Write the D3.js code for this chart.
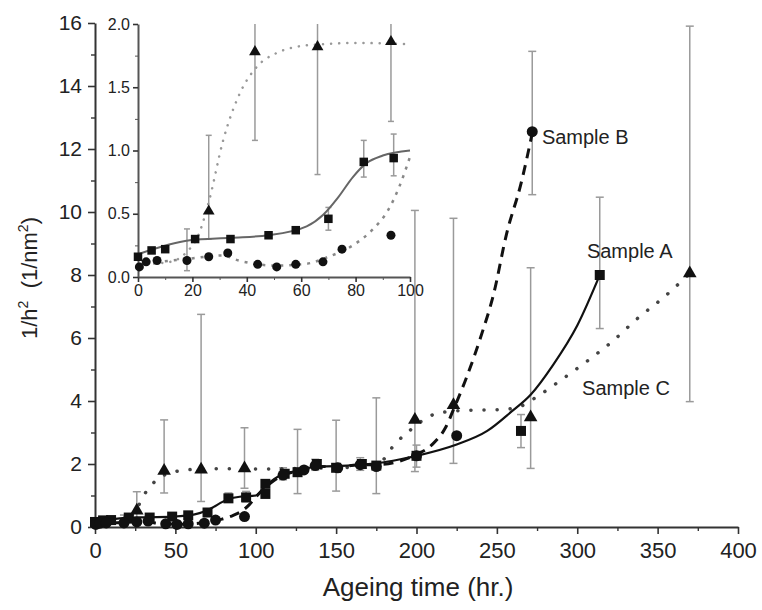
<!DOCTYPE html>
<html>
<head>
<meta charset="utf-8">
<script src="https://cdn.jsdelivr.net/npm/d3@7"></script>
<style>
  body { margin: 0; background: #fff; }
  text { font-family: "Liberation Sans", Arial, sans-serif; fill: #222; }
</style>
</head>
<body>
<svg id="chart" width="762" height="610"></svg>
<script>
// measured points (ageing time in hr, 1/h^2 in 1/nm^2)
const pointsA = [
  { t: 0, v: 0.16 }, { t: 5, v: 0.21 }, { t: 10, v: 0.22 }, { t: 21, v: 0.3 },
  { t: 34, v: 0.3 }, { t: 48, v: 0.33 }, { t: 58, v: 0.37 }, { t: 70, v: 0.46 },
  { t: 83, v: 0.91 }, { t: 94, v: 0.94 }, { t: 106, v: 1.05 }, { t: 106, v: 1.37 },
  { t: 118, v: 1.69 }, { t: 126, v: 1.74 }, { t: 138, v: 2.0 }, { t: 150, v: 1.88 },
  { t: 166, v: 2.0 }, { t: 175, v: 1.95 }, { t: 200, v: 2.26 }, { t: 265, v: 3.05 },
  { t: 314, v: 8.0 },
];
const pointsB = [
  { t: 0.5, v: 0.08 }, { t: 3, v: 0.12 }, { t: 7, v: 0.13 }, { t: 18, v: 0.13 },
  { t: 26, v: 0.16 }, { t: 33, v: 0.19 }, { t: 44, v: 0.1 }, { t: 51, v: 0.08 },
  { t: 58, v: 0.1 }, { t: 68, v: 0.12 }, { t: 75, v: 0.22 }, { t: 93, v: 0.33 },
  { t: 117, v: 1.65 }, { t: 130, v: 1.81 }, { t: 137, v: 1.95 }, { t: 151, v: 1.88 },
  { t: 165, v: 1.98 }, { t: 175, v: 1.92 }, { t: 200, v: 2.26 }, { t: 225, v: 2.9 },
  { t: 272, v: 12.55 },
];
const pointsC = [
  { t: 26, v: 0.52 }, { t: 43, v: 1.78 }, { t: 66, v: 1.82 }, { t: 93, v: 1.86 },
  { t: 199, v: 3.4 }, { t: 223, v: 3.87 }, { t: 271, v: 3.48 }, { t: 370, v: 8.05 },
];

// error bars (low, high)
const errorsA = [
  { t: 70, lo: 0.37, hi: 0.55 }, { t: 83, lo: 0.79, hi: 1.08 }, { t: 94, lo: 0.8, hi: 1.13 },
  { t: 126, lo: 1.06, hi: 3.1 }, { t: 150, lo: 1.14, hi: 3.39 }, { t: 175, lo: 1.06, hi: 4.1 },
  { t: 265, lo: 2.52, hi: 3.57 }, { t: 314, lo: 6.3, hi: 10.47 },
];
const errorsB = [
  { t: 18, lo: 0.05, hi: 0.38 }, { t: 117, lo: 1.5, hi: 1.88 }, { t: 137, lo: 1.8, hi: 2.15 },
  { t: 165, lo: 1.8, hi: 2.2 }, { t: 200, lo: 1.9, hi: 2.6 }, { t: 272, lo: 10.55, hi: 15.1 },
];
const errorsC = [
  { t: 26, lo: 0.3, hi: 1.12 }, { t: 43, lo: 1.08, hi: 3.4 }, { t: 66, lo: 0.81, hi: 6.75 },
  { t: 93, lo: 1.23, hi: 3.15 }, { t: 199, lo: 1.76, hi: 10.05 }, { t: 223, lo: 2.02, hi: 9.8 },
  { t: 271, lo: 1.86, hi: 8.23 }, { t: 370, lo: 3.98, hi: 15.9 },
];

// fitted curves
const fitA = [
  { t: 0, v: 0.18 }, { t: 19, v: 0.29 }, { t: 34, v: 0.31 }, { t: 48, v: 0.33 },
  { t: 62, v: 0.4 }, { t: 68, v: 0.49 }, { t: 73.6, v: 0.63 }, { t: 79, v: 0.79 },
  { t: 84, v: 0.9 }, { t: 90, v: 0.96 }, { t: 100, v: 1.0 }, { t: 106, v: 1.3 },
  { t: 117, v: 1.68 }, { t: 126, v: 1.78 }, { t: 138, v: 1.92 }, { t: 150, v: 1.93 },
  { t: 166, v: 1.98 }, { t: 175, v: 2.02 }, { t: 190, v: 2.15 }, { t: 200, v: 2.26 },
  { t: 225, v: 2.62 }, { t: 244, v: 3.05 }, { t: 259, v: 3.66 }, { t: 271, v: 4.2 },
  { t: 285, v: 5.15 }, { t: 300, v: 6.4 }, { t: 314, v: 8.0 },
];
const fitB = [
  { t: 0, v: 0.1 }, { t: 19, v: 0.145 }, { t: 31, v: 0.17 }, { t: 37, v: 0.13 },
  { t: 51, v: 0.09 }, { t: 62, v: 0.105 }, { t: 70, v: 0.16 }, { t: 79, v: 0.25 },
  { t: 86, v: 0.37 }, { t: 92, v: 0.53 }, { t: 96, v: 0.71 }, { t: 100, v: 0.95 },
  { t: 107, v: 1.3 }, { t: 117, v: 1.65 }, { t: 130, v: 1.81 }, { t: 137, v: 1.93 },
  { t: 151, v: 1.9 }, { t: 165, v: 1.98 }, { t: 175, v: 1.98 }, { t: 200, v: 2.3 },
  { t: 210, v: 2.63 }, { t: 218, v: 3.15 }, { t: 224, v: 3.85 }, { t: 231, v: 4.73 },
  { t: 240, v: 6.04 }, { t: 248, v: 7.4 }, { t: 256, v: 9.3 }, { t: 265, v: 10.9 },
  { t: 272, v: 12.5 },
];
const fitC = [
  { t: 0, v: 0.1 }, { t: 12, v: 0.12 }, { t: 18, v: 0.2 }, { t: 22, v: 0.32 },
  { t: 26.1, v: 0.6 }, { t: 31.3, v: 1.08 }, { t: 37.4, v: 1.45 }, { t: 43.6, v: 1.66 },
  { t: 50.9, v: 1.77 }, { t: 58.3, v: 1.82 }, { t: 68, v: 1.84 }, { t: 80, v: 1.85 },
  { t: 100, v: 1.84 }, { t: 130, v: 1.86 }, { t: 160, v: 1.9 }, { t: 176, v: 2.0 },
  { t: 187, v: 2.66 }, { t: 195, v: 3.03 }, { t: 210, v: 3.56 }, { t: 219, v: 3.66 },
  { t: 234, v: 3.71 }, { t: 250, v: 3.72 }, { t: 263, v: 3.8 }, { t: 275, v: 4.14 },
  { t: 290, v: 4.67 }, { t: 306, v: 5.26 }, { t: 322, v: 5.9 }, { t: 337, v: 6.6 },
  { t: 354, v: 7.3 }, { t: 370, v: 8.05 },
];

const xTicks = [0, 50, 100, 150, 200, 250, 300, 350, 400];
const yTicks = [0, 2, 4, 6, 8, 10, 12, 14, 16];
const insetXTicks = [0, 20, 40, 60, 80, 100];
const insetYTicks = [0, 0.5, 1.0, 1.5, 2.0];

const labels = [
  { name: "Sample B", t: 278, v: 12.15 },
  { name: "Sample A", t: 306, v: 8.55 },
  { name: "Sample C", t: 303, v: 4.2 },
];

const svg = d3.select("#chart");

// ---------- MAIN PLOT ----------
const x = d3.scaleLinear().domain([0, 400]).range([95, 738]);
const y = d3.scaleLinear().domain([0, 16]).range([527, 23]);

function styleAxis(g, fontSize) {
  g.select(".domain").attr("stroke", "#333").attr("stroke-width", 2);
  g.selectAll(".tick line").attr("stroke", "#333").attr("stroke-width", 1.6);
  g.selectAll(".tick text").style("font-size", fontSize + "px").attr("fill", "#222");
}

const gx = svg.append("g").attr("transform", `translate(0,${y(0)})`);
gx.call(d3.axisBottom(x).tickValues(xTicks).tickSize(7).tickSizeOuter(0).tickPadding(8));
styleAxis(gx, 22);
const gxm = svg.append("g").attr("transform", `translate(0,${y(0)})`);
gxm.call(d3.axisBottom(x).tickValues(d3.range(25, 400, 50)).tickSize(4).tickFormat(""));
gxm.select(".domain").remove();
gxm.selectAll(".tick line").attr("stroke", "#333").attr("stroke-width", 1.4);

const gy = svg.append("g").attr("transform", `translate(${x(0)},0)`);
gy.call(d3.axisLeft(y).tickValues(yTicks).tickSize(7).tickSizeOuter(0).tickPadding(6));
styleAxis(gy, 21);
const gym = svg.append("g").attr("transform", `translate(${x(0)},0)`);
gym.call(d3.axisLeft(y).tickValues(d3.range(1, 16, 2)).tickSize(4).tickFormat(""));
gym.select(".domain").remove();
gym.selectAll(".tick line").attr("stroke", "#333").attr("stroke-width", 1.4);

// axis titles
svg.append("text")
  .attr("x", 418).attr("y", 596)
  .attr("text-anchor", "middle")
  .style("font-size", "26px")
  .attr("fill", "#222")
  .text("Ageing time (hr.)");

const yTitle = svg.append("text")
  .attr("transform", "translate(37,278) rotate(-90)")
  .attr("text-anchor", "middle")
  .style("font-size", "22px")
  .attr("fill", "#222");
yTitle.append("tspan").text("1/h");
yTitle.append("tspan").attr("dy", -9).style("font-size", "14px").text("2");
yTitle.append("tspan").attr("dy", 9).text("\u00a0 (1/nm");
yTitle.append("tspan").attr("dy", -9).style("font-size", "14px").text("2");
yTitle.append("tspan").attr("dy", 9).text(")");

function drawPlot(g, xs, ys, opt) {
  const keep = (d) => d.t <= xs.domain()[1];

  // error bars
  const errs = [errorsA, errorsB, errorsC];
  errs.forEach((arr) => {
    const eg = g.append("g").attr("stroke", "#9a9a9a").attr("stroke-width", 1.5);
    arr.filter(keep).forEach((d) => {
      const top = Math.min(d.hi, ys.domain()[1]);
      eg.append("line")
        .attr("x1", xs(d.t)).attr("x2", xs(d.t))
        .attr("y1", ys(d.lo)).attr("y2", ys(top));
      eg.append("line")
        .attr("x1", xs(d.t) - opt.cap).attr("x2", xs(d.t) + opt.cap)
        .attr("y1", ys(d.lo)).attr("y2", ys(d.lo));
      if (d.hi <= ys.domain()[1]) {
        eg.append("line")
          .attr("x1", xs(d.t) - opt.cap).attr("x2", xs(d.t) + opt.cap)
          .attr("y1", ys(d.hi)).attr("y2", ys(d.hi));
      }
    });
  });

  const line = d3.line()
    .x((d) => xs(d.t))
    .y((d) => ys(d.v))
    .curve(d3.curveMonotoneX);

  // Sample C dotted
  g.append("path")
    .datum(fitC.filter(keep))
    .attr("d", line)
    .attr("fill", "none")
    .attr("stroke", opt.dotColor)
    .attr("stroke-width", opt.dotWidth)
    .attr("stroke-linecap", "round")
    .attr("stroke-dasharray", opt.dotDash);

  // Sample B dashed
  g.append("path")
    .datum(fitB.filter(keep))
    .attr("d", line)
    .attr("fill", "none")
    .attr("stroke", opt.dashColor)
    .attr("stroke-width", opt.dashWidth)
    .attr("stroke-dasharray", opt.dashDash);

  // Sample A solid
  g.append("path")
    .datum(fitA.filter(keep))
    .attr("d", line)
    .attr("fill", "none")
    .attr("stroke", opt.solidColor)
    .attr("stroke-width", opt.solidWidth);

  // markers
  g.selectAll(null)
    .data(pointsA.filter(keep))
    .join("rect")
    .attr("x", (d) => xs(d.t) - opt.sq / 2)
    .attr("y", (d) => ys(d.v) - opt.sq / 2)
    .attr("width", opt.sq).attr("height", opt.sq)
    .attr("fill", "#111");

  g.selectAll(null)
    .data(pointsB.filter(keep))
    .join("circle")
    .attr("cx", (d) => xs(d.t))
    .attr("cy", (d) => ys(d.v))
    .attr("r", opt.r)
    .attr("fill", "#111");

  const tri = d3.symbol().type(d3.symbolTriangle).size(opt.tri);
  g.selectAll(null)
    .data(pointsC.filter(keep))
    .join("path")
    .attr("d", tri)
    .attr("transform", (d) => `translate(${xs(d.t)},${ys(d.v)})`)
    .attr("fill", "#111");
}

drawPlot(svg.append("g"), x, y, {
  cap: 4, r: 5.5, sq: 10, tri: 80,
  dotColor: "#444", dotWidth: 3.5, dotDash: "0.1,13",
  dashColor: "#111", dashWidth: 3, dashDash: "10,7",
  solidColor: "#111", solidWidth: 2.2,
});

// sample labels
svg.selectAll(null)
  .data(labels)
  .join("text")
  .attr("x", (d) => x(d.t))
  .attr("y", (d) => y(d.v))
  .style("font-size", "20px")
  .attr("fill", "#333")
  .text((d) => d.name);

// ---------- INSET ----------
const ix = d3.scaleLinear().domain([0, 100]).range([138, 410]);
const iy = d3.scaleLinear().domain([0, 2]).range([277, 24]);

const gix = svg.append("g").attr("transform", `translate(0,${iy(0)})`);
gix.call(d3.axisBottom(ix).tickValues(insetXTicks).tickSize(5).tickSizeOuter(0).tickPadding(3));
styleAxis(gix, 16);
gix.select(".domain").attr("stroke", "#555");
const gixm = svg.append("g").attr("transform", `translate(0,${iy(0)})`);
gixm.call(d3.axisBottom(ix).tickValues(d3.range(10, 100, 20)).tickSize(3).tickFormat(""));
gixm.select(".domain").remove();
gixm.selectAll(".tick line").attr("stroke", "#555");

const giy = svg.append("g").attr("transform", `translate(${ix(0)},0)`);
giy.call(d3.axisLeft(iy).tickValues(insetYTicks).tickSize(5).tickSizeOuter(0).tickPadding(3)
  .tickFormat(d3.format(".1f")));
styleAxis(giy, 16);
giy.select(".domain").attr("stroke", "#555");
const giym = svg.append("g").attr("transform", `translate(${ix(0)},0)`);
giym.call(d3.axisLeft(iy).tickValues([0.25, 0.75, 1.25, 1.75]).tickSize(3).tickFormat(""));
giym.select(".domain").remove();
giym.selectAll(".tick line").attr("stroke", "#555");

drawPlot(svg.append("g"), ix, iy, {
  cap: 3, r: 4.5, sq: 8.5, tri: 60,
  dotColor: "#999", dotWidth: 2.5, dotDash: "0.1,8",
  dashColor: "#888", dashWidth: 2.5, dashDash: "3,6",
  solidColor: "#666", solidWidth: 2,
});
</script>
</body>
</html>
